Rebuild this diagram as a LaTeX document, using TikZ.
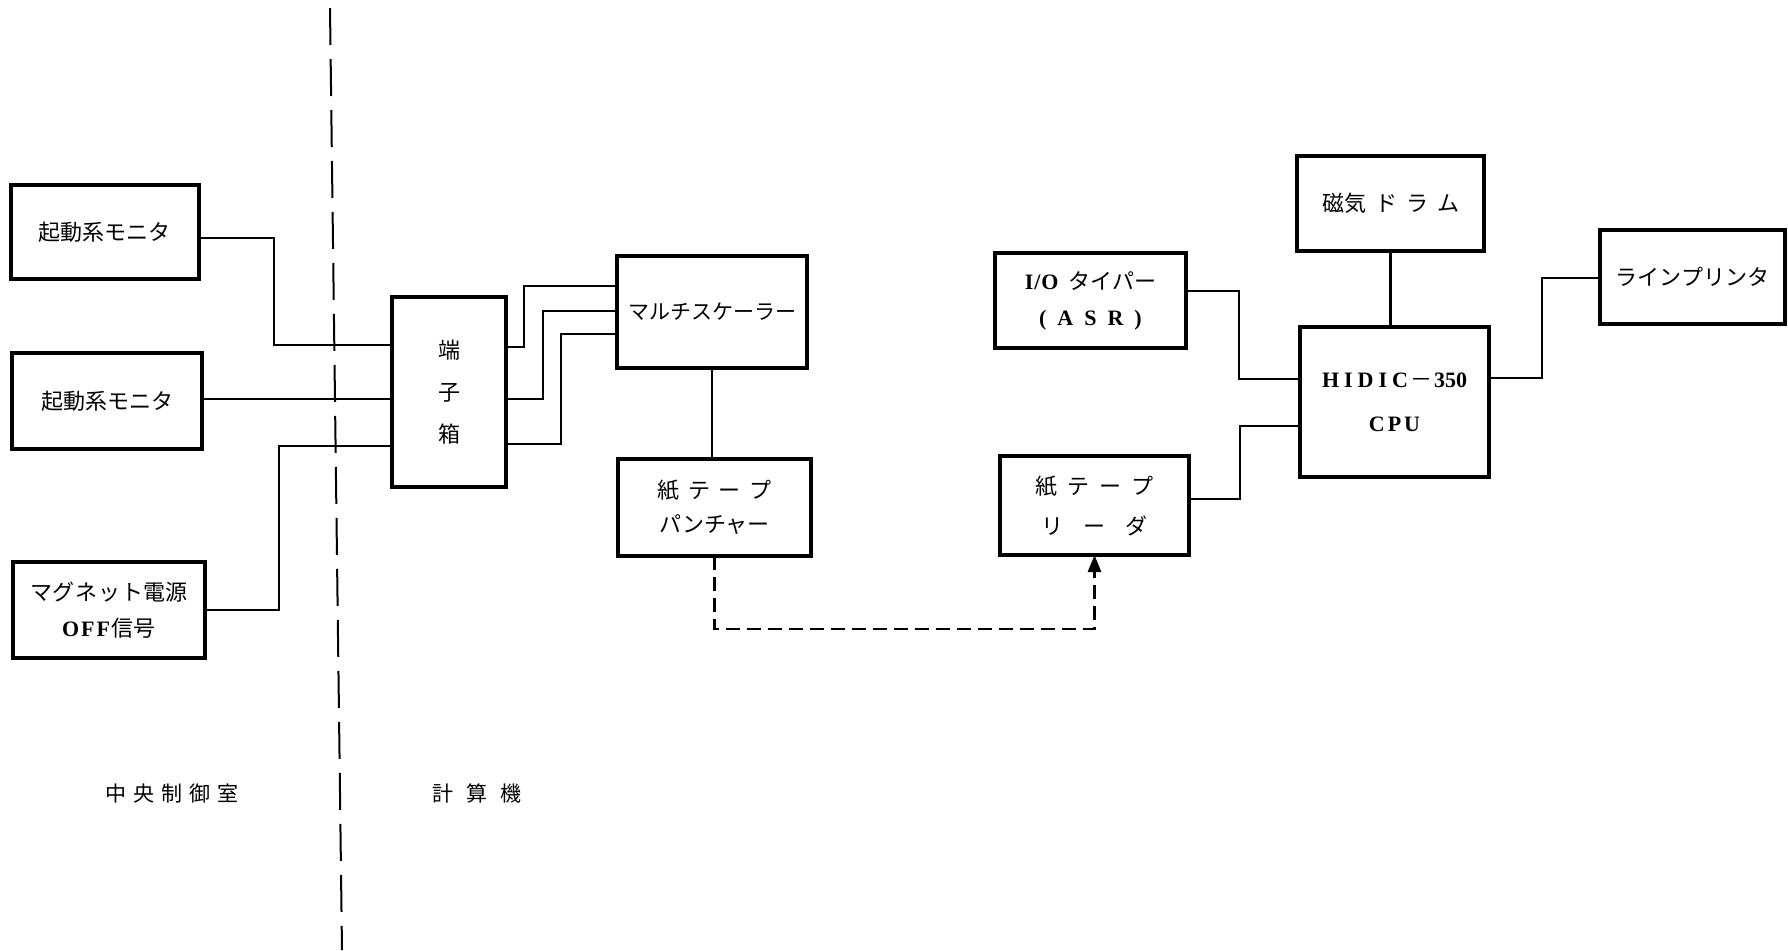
\documentclass[tikz,border=0pt]{standalone}
\usepackage{fontspec}
\setmainfont{Liberation Serif}
\newfontfamily\jp{Noto Sans CJK JP}
\usetikzlibrary{arrows.meta}
\newcommand{\kk}[1][4pt]{\hspace{#1}}
\newcommand{\la}{\rmfamily\bfseries}
\begin{document}
\begin{tikzpicture}[x=0.5pt,y=-0.5pt,
  box/.style={draw, line width=1.6pt, rectangle, inner sep=0pt, outer sep=0pt,
    align=center, font=\fontsize{11pt}{18pt}\selectfont\jp},
  wire/.style={line width=1.4pt},
  tape/.style={line width=1.4pt, dash pattern=on 7pt off 3.5pt,
    -{Triangle[length=8.5pt,width=6.5pt]}},
  divider/.style={line width=1pt, dash pattern=on 18.5pt off 7pt},
  lab/.style={font=\fontsize{10.5pt}{13pt}\selectfont\jp, inner sep=0pt}]
\useasboundingbox (0,0) rectangle (1788,950);

% boxes
\node[box, minimum width=94pt, minimum height=47pt] (m1) at (105,232) {起動系モニタ};
\node[box, minimum width=95pt, minimum height=48pt] (m2) at (107,401) {起動系モニタ};
\node[box, minimum width=96pt, minimum height=48pt] (mag) at (109,610)
  {マ\kk[0.5pt]グ\kk[0.5pt]ネ\kk[0.5pt]ッ\kk[0.5pt]ト電源\\{\la O\kk[1pt]F\kk[1pt]F}\kk[1pt]信号};
\node[box, minimum width=57pt, minimum height=95pt] (tb) at (449,392)
  {端\\[3pt]子\\[3pt]箱};
\node[box, minimum width=95pt, minimum height=56pt, font=\fontsize{10.5pt}{18pt}\selectfont\jp] (ms) at (712,312) {マルチスケーラー};
\node[box, minimum width=96.5pt, minimum height=48.5pt] (pp) at (714.5,507.5)
  {紙\kk[4.3pt]テ\kk[4.3pt]ー\kk[4.3pt]プ\\[-1pt]パンチャー};
\node[box, minimum width=94.5pt, minimum height=49.5pt] (rd) at (1094.5,505.5)
  {紙\kk[5pt]テ\kk[5pt]ー\kk[5pt]プ\\[2pt]リ\kk[10.2pt]ー\kk[10.2pt]ダ};
\node[box, minimum width=95.5pt, minimum height=47.5pt] (io) at (1090.5,300.5)
  {{\la I\kk[0.5pt]/\kk[0.5pt]O}\kk[5pt]タイパー\\{\la (\kk[5.5pt]A\kk[5.5pt]S\kk[5.5pt]R\kk[5.5pt])}};
\node[box, minimum width=94.5pt, minimum height=75pt] (cpu) at (1394.5,402)
  {{\la H\kk[2.5pt]I\kk[2.5pt]D\kk[2.5pt]I\kk[2.5pt]C}\kk[1pt]－\kk[1pt]{\la 350}\\[4pt]{\la C\kk[1.5pt]P\kk[1.5pt]U}};
\node[box, minimum width=93.5pt, minimum height=47.5pt] (drum) at (1390.5,203.5)
  {磁気\kk[4.5pt]ド\kk[4.5pt]ラ\kk[4.5pt]ム};
\node[box, minimum width=92.5pt, minimum height=47pt] (lp) at (1692.5,277) {ラインプリンタ};

% labels
\node[lab] (l1) at (172,793) {中\kk[3.6pt]央\kk[3.6pt]制\kk[3.6pt]御\kk[3.6pt]室};
\node[lab] (l2) at (477,793) {計\kk[6.7pt]算\kk[6.7pt]機};

% divider
\coordinate (dtop) at (330,8);
\coordinate (dbot) at (342,950);
\draw[divider] (dtop) -- (dbot);

% left wires
\draw[wire] (m1.east |- 0,238) -| (274,345) -- (tb.west |- 0,345);
\draw[wire] (m2.east |- 0,399) -- (tb.west |- 0,399);
\draw[wire] (mag.east |- 0,610) -| (279,446) -- (tb.west |- 0,446);

% terminal box to multiscaler
\draw[wire] (tb.east |- 0,347) -| (524,286) -- (ms.west |- 0,286);
\draw[wire] (tb.east |- 0,399) -| (543,311) -- (ms.west |- 0,311);
\draw[wire] (tb.east |- 0,444) -| (561,334) -- (ms.west |- 0,334);

\draw[wire] (ms.south) -- (ms.south |- pp.north);

% paper tape path
\draw[tape] (pp.south) -- (pp.south |- 0,629) -| (rd.south);

% CPU connections
\draw[wire] (io.east |- 0,291) -| (1239,379) -- (cpu.west |- 0,379);
\draw[wire] (rd.east |- 0,499) -| (1240,426) -- (cpu.west |- 0,426);
\draw[wire] (drum.south) -- (drum.south |- cpu.north);
\draw[wire] (cpu.east |- 0,378) -| (1542,278) -- (lp.west |- 0,278);
\end{tikzpicture}
\end{document}
